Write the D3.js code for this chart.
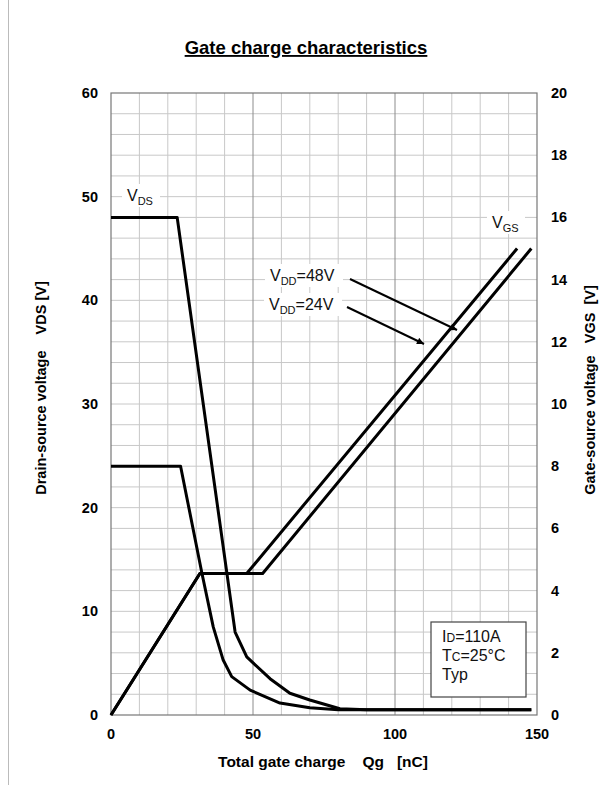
<!DOCTYPE html>
<html>
<head>
<meta charset="utf-8">
<script src="https://cdn.jsdelivr.net/npm/d3@7"></script>
<style>
  body { margin: 0; background: #fff; }
  text { font-family: "Liberation Sans", Arial, sans-serif; }
</style>
</head>
<body>
<svg width="610" height="785"></svg>
<script>
// data
var qDs48 = [0, 23.3, 43.7, 47.8, 56, 63, 70, 80.6, 90, 148];
var vDs48 = [48, 48, 8.0, 5.6, 3.5, 2.1, 1.45, 0.6, 0.5, 0.5];
var qDs24 = [0, 24.5, 32, 36, 39.5, 42.5, 49, 59.5, 70, 80, 148];
var vDs24 = [24, 24, 13.7, 8.5, 5.3, 3.7, 2.4, 1.15, 0.7, 0.5, 0.5];
var qGs24 = [0, 31.3, 47.8, 143];
var vGs24 = [0, 4.55, 4.55, 15];
var qGs48 = [0, 31.3, 53.4, 148];
var vGs48 = [0, 4.55, 4.55, 15];

var xTicks = [0, 50, 100, 150];
var leftTicks = [0, 10, 20, 30, 40, 50, 60];
var rightTicks = [0, 2, 4, 6, 8, 10, 12, 14, 16, 18, 20];

const svg = d3.select("svg");
var pLeft = 111, pRight = 537, pTop = 93, pBottom = 715;
var sp = "\u00a0";

var x = d3.scaleLinear().domain([0, 150]).range([pLeft, pRight]);
var yL = d3.scaleLinear().domain([0, 60]).range([pBottom, pTop]);
var yR = d3.scaleLinear().domain([0, 20]).range([pBottom, pTop]);

// page frame line on the left
svg.append("line")
  .attr("x1", 8.5).attr("x2", 8.5).attr("y1", 0).attr("y2", 785)
  .attr("stroke", "#bbb");

// grid
var grid = svg.append("g");
grid.selectAll("line.h")
  .data(d3.range(2, 60, 2))
  .join("line")
  .attr("x1", pLeft).attr("x2", pRight)
  .attr("y1", function (d) { return yL(d); })
  .attr("y2", function (d) { return yL(d); })
  .attr("stroke", "#c8c8c8").attr("stroke-width", 1);
grid.selectAll("line.v")
  .data(d3.range(10, 150, 10))
  .join("line")
  .attr("y1", pTop).attr("y2", pBottom)
  .attr("x1", function (d) { return x(d); })
  .attr("x2", function (d) { return x(d); })
  .attr("stroke", function (d) { return d % 50 == 0 ? "#8c8c8c" : "#c8c8c8"; })
  .attr("stroke-width", 1);

svg.append("rect")
  .attr("x", pLeft).attr("y", pTop)
  .attr("width", pRight - pLeft).attr("height", pBottom - pTop)
  .attr("fill", "none").attr("stroke", "#777").attr("stroke-width", 1.2);

// ticks labels
svg.append("g").selectAll("text")
  .data(xTicks).join("text")
  .attr("x", function (d) { return x(d); })
  .attr("y", 739)
  .attr("text-anchor", "middle")
  .attr("font-size", 14.5).attr("font-weight", "bold")
  .text(function (d) { return d; });
svg.append("g").selectAll("text")
  .data(leftTicks).join("text")
  .attr("x", 98)
  .attr("y", function (d) { return yL(d) + 5; })
  .attr("text-anchor", "end")
  .attr("font-size", 14.5).attr("font-weight", "bold")
  .text(function (d) { return d; });
svg.append("g").selectAll("text")
  .data(rightTicks).join("text")
  .attr("x", 551)
  .attr("y", function (d) { return yR(d) + 5; })
  .attr("text-anchor", "start")
  .attr("font-size", 14.5).attr("font-weight", "bold")
  .text(function (d) { return d; });

// title + axis titles
svg.append("text")
  .attr("x", 306).attr("y", 54)
  .attr("text-anchor", "middle")
  .attr("font-size", 18.5).attr("font-weight", "bold")
  .attr("text-decoration", "underline")
  .text("Gate charge characteristics");
svg.append("text")
  .attr("x", 323).attr("y", 767)
  .attr("text-anchor", "middle")
  .attr("font-size", 15.5).attr("font-weight", "bold")
  .text("Total gate charge" + sp.repeat(4) + "Qg" + sp.repeat(3) + "[nC]");
svg.append("text")
  .attr("transform", "translate(46,388) rotate(-90)")
  .attr("text-anchor", "middle")
  .attr("font-size", 14.5).attr("font-weight", "bold")
  .text("Drain-source voltage" + sp.repeat(4) + "VDS [V]");
svg.append("text")
  .attr("transform", "translate(595,390) rotate(-90)")
  .attr("text-anchor", "middle")
  .attr("font-size", 14.5).attr("font-weight", "bold")
  .text("Gate-source voltage" + sp.repeat(3) + "VGS" + sp.repeat(2) + "[V]");

// curves
var lineL = d3.line()
  .x(function (d) { return x(d[0]); })
  .y(function (d) { return yL(d[1]); });
var lineR = d3.line()
  .x(function (d) { return x(d[0]); })
  .y(function (d) { return yR(d[1]); });

var curves = [
  { q: qDs48, v: vDs48, gen: lineL },
  { q: qDs24, v: vDs24, gen: lineL },
  { q: qGs24, v: vGs24, gen: lineR },
  { q: qGs48, v: vGs48, gen: lineR }
];
svg.append("g").selectAll("path")
  .data(curves).join("path")
  .attr("d", function (d) { return d.gen(d3.zip(d.q, d.v)); })
  .attr("fill", "none").attr("stroke", "#000")
  .attr("stroke-width", 3).attr("stroke-linejoin", "round");

// labels with white backing
function subLabel(px, py, main, sub, rest, w) {
  svg.append("rect")
    .attr("x", px - 5).attr("y", py - 17)
    .attr("width", w).attr("height", 23)
    .attr("fill", "#fff");
  var t = svg.append("text")
    .attr("x", px).attr("y", py)
    .attr("font-size", 16).attr("fill", "#111");
  t.append("tspan").text(main);
  t.append("tspan").attr("font-size", 11).attr("dy", 4).text(sub);
  if (rest) t.append("tspan").attr("dy", -4).text(rest);
}
subLabel(127, 201, "V", "DS", null, 38);
subLabel(492, 228, "V", "GS", null, 38);
subLabel(270, 281, "V", "DD", "=48V", 78);
subLabel(269, 310, "V", "DD", "=24V", 78);

// arrows
svg.append("defs").append("marker")
  .attr("id", "ah").attr("viewBox", "0 0 10 10")
  .attr("refX", 10).attr("refY", 5)
  .attr("markerWidth", 8).attr("markerHeight", 7)
  .attr("orient", "auto").attr("markerUnits", "userSpaceOnUse")
  .append("path").attr("d", "M0,0 L10,5 L0,10 z").attr("fill", "#000");
var arrows = [[350, 279, 457, 330], [347, 307, 424, 344]];
svg.append("g").selectAll("line")
  .data(arrows).join("line")
  .attr("x1", function (d) { return d[0]; })
  .attr("y1", function (d) { return d[1]; })
  .attr("x2", function (d) { return d[2]; })
  .attr("y2", function (d) { return d[3]; })
  .attr("stroke", "#000").attr("stroke-width", 2)
  .attr("marker-end", "url(#ah)");

// condition box
svg.append("rect")
  .attr("x", 431).attr("y", 622)
  .attr("width", 95).attr("height", 75)
  .attr("fill", "#fff").attr("stroke", "#444").attr("stroke-width", 1.2);
var cond = [["I", "D", "=110A"], ["T", "C", "=25\u00b0C"], ["Typ", "", ""]];
svg.append("g").selectAll("text")
  .data(cond).join("text")
  .attr("x", 442)
  .attr("y", function (d, i) { return 642 + i * 19; })
  .attr("font-size", 16).attr("fill", "#111")
  .each(function (d) {
    var t = d3.select(this);
    t.append("tspan").text(d[0]);
    if (d[1]) t.append("tspan").attr("font-size", 12).text(d[1]);
    if (d[2]) t.append("tspan").text(d[2]);
  });
</script>
</body>
</html>
